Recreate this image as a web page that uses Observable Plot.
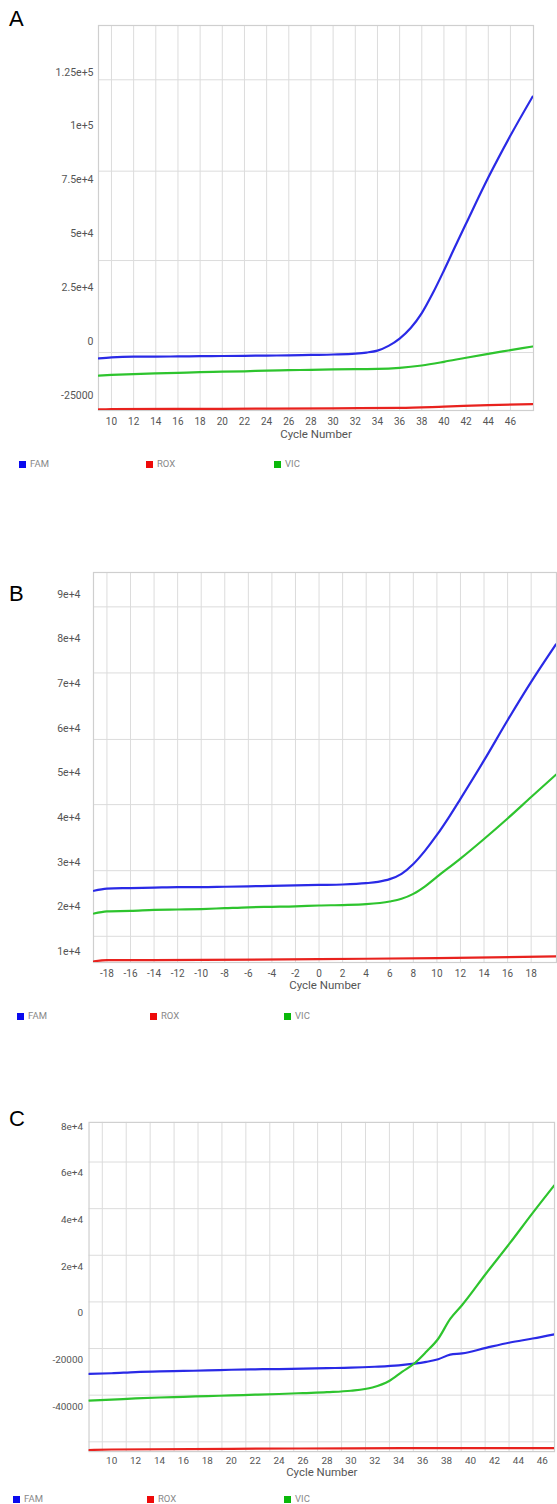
<!DOCTYPE html>
<html>
<head>
<meta charset="utf-8">
<script src="https://cdn.jsdelivr.net/npm/d3@7"></script>
<script src="https://cdn.jsdelivr.net/npm/@observablehq/plot@0.6"></script>
<style>
  html, body { margin: 0; padding: 0; background: #fff; }
  #page { position: relative; width: 557px; height: 1504px; overflow: hidden; background: #fff; }
  .panel { position: absolute; left: 0; }
  .letter { position: absolute; left: 9px; font-family: "Liberation Sans", Arial, sans-serif; font-size: 22px; line-height: 22px; color: #000; }
  .leg { position: absolute; font-family: Roboto, "Open Sans", sans-serif; font-size: 9.5px; color: #888; line-height: 10px; white-space: nowrap; }
  .sq { position: absolute; width: 7px; height: 7px; }
</style>
</head>
<body>
<div id="page"></div>
<script>
// ---------- data ----------
const dyes = ["FAM", "ROX", "VIC"];
const lineColors = ["#2a2ae6", "#e8221e", "#2ec42e"];
const legendColors = ["#0a0aee", "#ee0a0a", "#0ab80a"];

// Panel A
const aFamCycles = [8.85, 10, 12, 14, 16, 18, 20, 22, 24, 26, 28, 30, 32, 33, 34, 35, 36, 37, 38, 39, 40, 41, 42, 44, 46, 48];
const aFamValues = [-7800, -7300, -7000, -7000, -6900, -6800, -6700, -6600, -6500, -6400, -6200, -6000, -5600, -5100, -4200, -2000, 1400, 6300, 13200, 22500, 33000, 44000, 54800, 76100, 95600, 113700];
const aVicCycles = [8.85, 10, 12, 14, 16, 18, 20, 22, 24, 26, 28, 30, 32, 34, 36, 38, 40, 42, 44, 46, 48];
const aVicValues = [-15800, -15500, -15100, -14800, -14500, -14200, -14000, -13800, -13500, -13300, -13100, -12900, -12800, -12700, -12200, -11100, -9400, -7500, -5700, -4000, -2300];
const aRoxCycles = [8.85, 10, 20, 30, 36, 40, 44, 48];
const aRoxValues = [-31500, -31400, -31200, -31000, -30800, -30200, -29500, -29000];
const aXTicks = [10, 12, 14, 16, 18, 20, 22, 24, 26, 28, 30, 32, 34, 36, 38, 40, 42, 44, 46];
const aYTicks = [-25000, 0, 25000, 50000, 75000, 100000, 125000];
const aYLabels = ["-25000", "0", "2.5e+4", "5e+4", "7.5e+4", "1e+5", "1.25e+5"];
const aGridY = [-5100, 37600, 79100, 121500];

// Panel B
const bFamCycles = [-19.1, -18, -16, -14, -12, -10, -8, -6, -4, -2, 0, 2, 4, 5, 6, 7, 8, 9, 10, 11, 12, 14, 16, 18, 20.1];
const bFamValues = [23600, 24100, 24200, 24300, 24400, 24400, 24500, 24600, 24700, 24800, 24900, 25000, 25300, 25600, 26200, 27400, 29600, 32600, 36100, 40000, 44200, 52800, 61800, 70400, 78800];
const bVicCycles = [-19.1, -18, -16, -14, -12, -10, -8, -6, -4, -2, 0, 2, 4, 6, 7, 8, 9, 10, 12, 14, 16, 18, 20.1];
const bVicValues = [18500, 19000, 19100, 19300, 19400, 19500, 19700, 19900, 20000, 20100, 20300, 20400, 20600, 21200, 21800, 22900, 24600, 26700, 30800, 35200, 39800, 44600, 49600];
const bRoxCycles = [-19.1, -18, -10, 0, 10, 20.1];
const bRoxValues = [7800, 8050, 8100, 8300, 8500, 8900];
const bXTicks = [-18, -16, -14, -12, -10, -8, -6, -4, -2, 0, 2, 4, 6, 8, 10, 12, 14, 16, 18];
const bYTicks = [10000, 20000, 30000, 40000, 50000, 60000, 70000, 80000, 90000];
const bYLabels = ["1e+4", "2e+4", "3e+4", "4e+4", "5e+4", "6e+4", "7e+4", "8e+4", "9e+4"];
const bGridY = [13400, 28100, 42900, 57500, 72400, 87200];

// Panel C
const cFamCycles = [8.1, 10, 12, 14, 16, 18, 20, 22, 24, 26, 28, 30, 32, 34, 35.3, 36.3, 37.3, 38.3, 39.3, 41.3, 43.3, 45.2, 47];
const cFamValues = [-26100, -25800, -25300, -25000, -24800, -24600, -24300, -24100, -24000, -23800, -23600, -23400, -23000, -22400, -21700, -20900, -19800, -17800, -17300, -14900, -12600, -10900, -9100];
const cVicCycles = [8.1, 10, 12, 14, 16, 18, 20, 22, 24, 26, 28, 30, 31.8, 33.2, 34.3, 35.3, 36.3, 37.3, 38.3, 39.3, 41.3, 43.3, 45.2, 47];
const cVicValues = [-37500, -37100, -36600, -36200, -35900, -35600, -35300, -35000, -34700, -34300, -33900, -33300, -31900, -29100, -25100, -21600, -16600, -11000, -2500, 3500, 17000, 30100, 43000, 54800];
const cRoxCycles = [8.1, 10, 20, 30, 40, 47];
const cRoxValues = [-58700, -58500, -58200, -58000, -57900, -57900];
const cXTicks = [10, 12, 14, 16, 18, 20, 22, 24, 26, 28, 30, 32, 34, 36, 38, 40, 42, 44, 46];
const cGridX = [9.22, 11.22, 13.22, 15.22, 17.22, 19.22, 21.22, 23.22, 25.22, 27.22, 29.22, 31.22, 33.22, 35.22, 37.22, 39.22, 41.22, 43.22, 45.22];
const cYTicks = [-40000, -20000, 0, 20000, 40000, 60000, 80000];
const cYLabels = ["-40000", "-20000", "0", "2e+4", "4e+4", "6e+4", "8e+4"];
const cGridY = [-55200, -35200, -15200, 4800, 24800, 44800, 64800];

// ---------- layout ----------
const panels = [
  {
    letter: "A", top: 0, letterTop: 8, width: 557, height: 450,
    margin: {left: 98, right: 24, top: 25, bottom: 40},
    xDomain: [8.83, 48.08], yDomain: [-32000, 146700],
    xTicks: aXTicks, gridX: aXTicks, yTicks: aYTicks, yLabels: aYLabels, gridY: aGridY,
    yPad: 5, xPad: 7.5, yFont: 10.5, titleDy: 27,
    series: [["FAM", aFamCycles, aFamValues], ["ROX", aRoxCycles, aRoxValues], ["VIC", aVicCycles, aVicValues]],
    legendY: 464, legendX: [19, 146, 274]
  },
  {
    letter: "B", top: 550, letterTop: 583, width: 557, height: 450,
    margin: {left: 93, right: 1, top: 22, bottom: 38},
    xDomain: [-19.14, 20.15], yDomain: [7530, 94900],
    xTicks: bXTicks, gridX: bXTicks, yTicks: bYTicks, yLabels: bYLabels, gridY: bGridY,
    yPad: 13, xPad: 7, yFont: 10.5, titleDy: 26.5,
    series: [["FAM", bFamCycles, bFamValues], ["ROX", bRoxCycles, bRoxValues], ["VIC", bVicCycles, bVicValues]],
    legendY: 1016, legendX: [17, 150, 284]
  },
  {
    letter: "C", top: 1100, letterTop: 1108, width: 560, height: 390,
    margin: {left: 89, right: 3, top: 22, bottom: 37},
    xDomain: [8.11, 47.02], yDomain: [-59400, 81800],
    xTicks: cXTicks, gridX: cGridX, yTicks: cYTicks, yLabels: cYLabels, gridY: cGridY,
    yPad: 6, xPad: 5.5, yFont: 10, titleDy: 25,
    series: [["FAM", cFamCycles, cFamValues], ["ROX", cRoxCycles, cRoxValues], ["VIC", cVicCycles, cVicValues]],
    legendY: 1499, legendX: [13, 147, 284]
  }
];

const page = document.getElementById("page");

for (const p of panels) {
  const rows = [];
  for (const [dye, cyc, val] of p.series) {
    cyc.forEach((c, i) => rows.push({dye, cycle: c, value: val[i]}));
  }
  const yLab = new Map(p.yTicks.map((t, i) => [t, p.yLabels[i]]));

  const chart = Plot.plot({
    width: p.width,
    height: p.height,
    marginLeft: p.margin.left,
    marginRight: p.margin.right,
    marginTop: p.margin.top,
    marginBottom: p.margin.bottom,
    style: {fontFamily: "Roboto, 'Open Sans', sans-serif", fontSize: "10px", color: "#555", background: "transparent", overflow: "visible"},
    x: {domain: p.xDomain, label: null},
    y: {domain: p.yDomain, label: null},
    color: {domain: dyes, range: lineColors},
    marks: [
      Plot.ruleY(p.gridY, {stroke: "#dcdcdc", strokeWidth: 1}),
      Plot.ruleX(p.gridX, {stroke: "#dcdcdc", strokeWidth: 1}),
      Plot.frame({stroke: "#cfcfcf", strokeWidth: 1.2}),
      Plot.line(rows, {x: "cycle", y: "value", z: "dye", stroke: "dye", strokeWidth: 2.2, curve: "monotone-x", clip: true}),
      Plot.axisX({ticks: p.xTicks, tickSize: 0, tickPadding: p.xPad, tickFormat: d => String(d), fill: "#555", fontSize: 10, label: null}),
      Plot.axisY({ticks: p.yTicks, tickSize: 0, tickPadding: p.yPad, tickFormat: d => yLab.get(d), fill: "#555", fontSize: p.yFont, label: null}),
      Plot.text(["Cycle Number"], {text: d => d, frameAnchor: "bottom", dy: p.titleDy, fontSize: 11.5, fill: "#555"})
    ]
  });
  const wrap = document.createElement("div");
  wrap.className = "panel";
  wrap.style.top = p.top + "px";
  wrap.appendChild(chart);
  page.appendChild(wrap);

  const L = document.createElement("div");
  L.className = "letter";
  L.style.top = p.letterTop + "px";
  L.textContent = p.letter;
  page.appendChild(L);

  dyes.forEach((d, i) => {
    const sq = document.createElement("div");
    sq.className = "sq";
    sq.style.left = p.legendX[i] + "px";
    sq.style.top = (p.legendY - 3.5) + "px";
    sq.style.background = legendColors[i];
    page.appendChild(sq);
    const t = document.createElement("div");
    t.className = "leg";
    t.style.left = (p.legendX[i] + 11) + "px";
    t.style.top = (p.legendY - 5) + "px";
    t.textContent = d;
    page.appendChild(t);
  });
}
</script>
</body>
</html>
